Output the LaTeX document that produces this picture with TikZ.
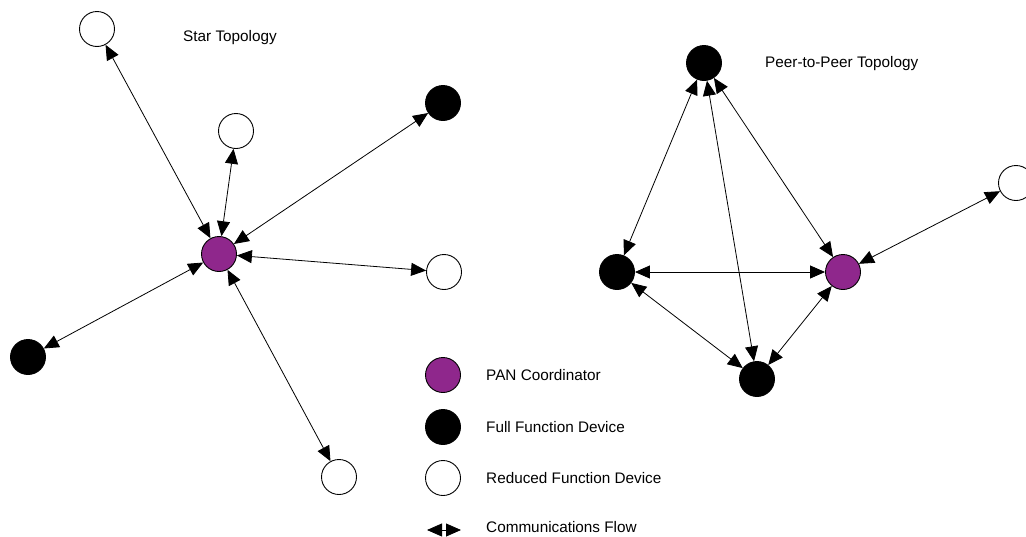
\documentclass[tikz,border=0pt]{standalone}
\usepackage{fontspec}
\setmainfont{Liberation Sans}
\usepackage{xcolor}
\usetikzlibrary{positioning,
	arrows.meta,
	shapes}
\definecolor{pancol}{RGB}{143,39,140}
\tikzstyle{dev}=[circle, draw, line width=0.9pt, minimum size=35pt, inner sep=0]
\tikzstyle{pan}=[dev, fill=pancol]
\tikzstyle{ffd}=[dev, fill=black]
\tikzstyle{rfd}=[dev, fill=white]
\tikzstyle{flow}=[{Triangle[length=15pt,width=13pt]}-{Triangle[length=15pt,width=13pt]}, line width=0.8pt]
\tikzstyle{lbl}=[font=\fontsize{15.3}{18}\selectfont, inner sep=0]

\begin{document}
\begin{tikzpicture}[x=1pt, y=-1pt]
            \useasboundingbox (0,0) rectangle (1026,536);
            % star topology
            \node[lbl] (startitle) at (230,38) {Star Topology};
            \node[pan] (pan) at (219,254) {};
            \node[rfd] (rfdA) at (97,29) {};
            \node[rfd] (rfdB) at (236,131) {};
            \node[ffd] (ffdA) at (443,103) {};
            \node[rfd] (rfdC) at (444,272) {};
            \node[ffd] (ffdB) at (28,357) {};
            \node[rfd] (rfdD) at (339,477) {};
            \draw[flow] (pan) -- (rfdA);
            \draw[flow] (pan) -- (rfdB);
            \draw[flow] (pan) -- (ffdA);
            \draw[flow] (pan) -- (rfdC);
            \draw[flow] (pan) -- (ffdB);
            \draw[flow] (pan) -- (rfdD);
            % peer-to-peer topology
            \node[lbl, anchor=west] (p2ptitle) at (765,64) {Peer-to-Peer Topology};
            \node[ffd] (ffdC) at (704,63) {};
            \node[ffd] (ffdD) at (617,272) {};
            \node[pan] (p2ppan) at (843,272) {};
            \node[ffd] (ffdE) at (757,379) {};
            \node[rfd] (rfdE) at (1016,183) {};
            \draw[flow] (ffdC) -- (ffdD);
            \draw[flow] (ffdC) -- (p2ppan);
            \draw[flow] (ffdC) -- (ffdE);
            \draw[flow] (ffdD) -- (p2ppan);
            \draw[flow] (ffdD) -- (ffdE);
            \draw[flow] (ffdE) -- (p2ppan);
            \draw[flow] (p2ppan) -- (rfdE);
            % legend
            \node[pan] (keypan) at (443,375) {};
            \node[ffd] (keyffd) at (443,427) {};
            \node[rfd] (keyrfd) at (443,478) {};
            \coordinate (keyflowL) at (427,530);
            \coordinate (keyflowR) at (461,530);
            \draw[flow] (keyflowL) -- (keyflowR);
            \node[lbl, anchor=west] (txtpan) at (486,375) {PAN Coordinator};
            \node[lbl, anchor=west] (txtffd) at (486,427) {Full Function Device};
            \node[lbl, anchor=west] (txtrfd) at (486,478) {Reduced Function Device};
            \node[lbl, anchor=west] (txtflow) at (486,527) {Communications Flow};
        \end{tikzpicture}
\end{document}
